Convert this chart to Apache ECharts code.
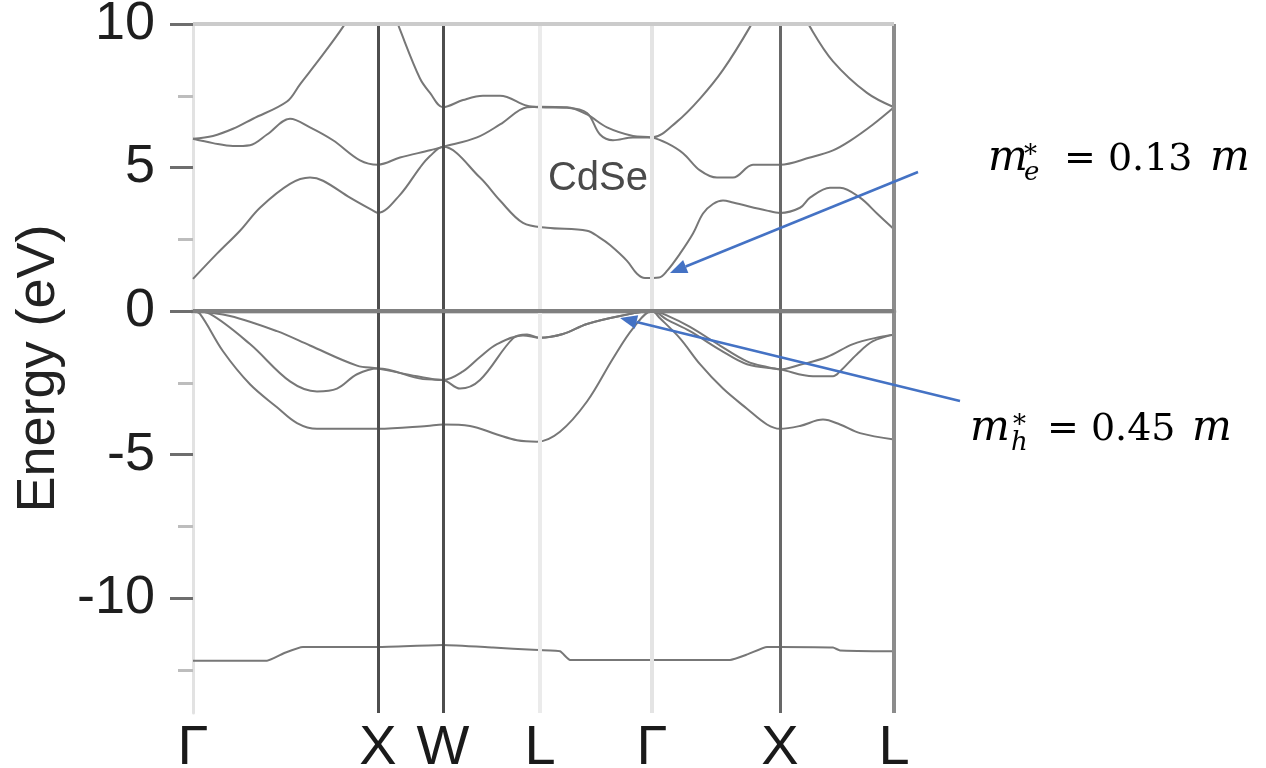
<!DOCTYPE html>
<html lang="en">
<head>
    <meta charset="UTF-8">
    <title>CdSe band structure</title>
    <script src="https://cdn.jsdelivr.net/npm/echarts@6/dist/echarts.min.js"></script>
    <style>
        html, body { margin: 0; padding: 0; background: #fff; }
        #main { width: 1266px; height: 768px; }
    </style>
</head>
<body>
<div id="main"></div>
<script>
    // k-path positions (arbitrary units along the path) and their labels
    var kTicks = [0, 185, 250, 347, 459, 587, 701];
    var kLabels = ['Γ', 'X', 'W', 'L', 'Γ', 'X', 'L'];
    var yMajor = [-10, -5, 0, 5, 10];
    var yMinor = [-12.5, -7.5, -2.5, 2.5, 7.5];

    // bands: [k, energy in eV]
    var bandS = [[0,-12.18],[74,-12.18],[92,-11.9],[110,-11.7],[185,-11.7],[250,-11.63],[300,-11.72],[340,-11.8],[367,-11.85],[377,-12.15],
        [459,-12.15],[537,-12.15],[555,-11.95],[574,-11.7],[587,-11.7],[640,-11.72],[647,-11.82],[701,-11.85]];
    var bandV3 = [[0,0],[7,-0.1],[30,-1.4],[57,-2.55],[84,-3.35],[104,-3.9],[124,-4.1],[164,-4.1],[185,-4.1],[234,-4.0],[250,-3.95],
        [277,-4.0],[304,-4.3],[324,-4.5],[344,-4.55],[367,-4.2],[394,-3.15],[420,-1.65],[440,-0.6],[459,0],
        [467,-0.25],[487,-0.95],[507,-1.85],[530,-2.7],[554,-3.4],[574,-3.95],[587,-4.1],[607,-4.0],[630,-3.78],[647,-3.95],[667,-4.25],[701,-4.47]];
    var bandV2 = [[0,0],[17,-0.1],[57,-1.15],[97,-2.45],[124,-2.8],[144,-2.7],[164,-2.2],[185,-2.0],[230,-2.37],[250,-2.4],[267,-2.7],
        [287,-2.4],[320,-0.95],[334,-0.82],[347,-0.93],[370,-0.8],[394,-0.45],[427,-0.17],[459,0],
        [474,-0.3],[497,-0.7],[527,-1.35],[554,-1.85],[587,-2.03],[620,-2.27],[640,-2.27],[647,-2.1],[664,-1.5],[680,-1.05],[701,-0.82]];
    var bandV1 = [[0,0],[37,-0.17],[84,-0.7],[117,-1.2],[164,-1.9],[185,-2.0],[224,-2.27],[250,-2.4],[270,-2.1],[287,-1.6],[304,-1.15],
        [330,-0.85],[347,-0.93],[370,-0.8],[394,-0.45],[427,-0.17],[459,0],
        [477,-0.2],[497,-0.55],[527,-1.2],[554,-1.75],[574,-1.95],[587,-2.03],[607,-1.87],[634,-1.6],[660,-1.15],[687,-0.9],[701,-0.82]];
    var bandC1 = [[0,1.12],[24,2.0],[47,2.8],[67,3.6],[97,4.43],[117,4.65],[130,4.54],[157,3.95],[180,3.5],[185,3.42],[207,4.05],[227,5.0],
        [237,5.4],[250,5.72],[287,4.65],[307,3.85],[330,3.07],[354,2.9],[394,2.8],[407,2.55],[417,2.3],[434,1.75],[444,1.3],[452,1.15],
        [466,1.17],[474,1.4],[487,2.0],[500,2.7],[510,3.4],[520,3.73],[530,3.85],[540,3.78],[574,3.5],[587,3.42],[607,3.6],[617,3.95],
        [637,4.3],[647,4.3],[667,3.95],[684,3.4],[701,2.85]];
    var bandC2 = [[0,6.0],[20,5.85],[40,5.75],[57,5.78],[74,6.15],[97,6.7],[117,6.4],[140,5.95],[167,5.25],[185,5.1],[207,5.35],[237,5.6],
        [250,5.72],[284,6.05],[307,6.5],[334,7.1],[347,7.12],[374,7.1],[394,6.85],[414,6.4],[440,6.1],[459,6.05],
        [474,5.85],[490,5.5],[507,4.9],[524,4.65],[540,4.65],[560,5.1],[587,5.1],[617,5.35],[640,5.6],[657,5.93],[680,6.5],[701,7.1]];
    var bandC3 = [[0,6.0],[20,6.1],[40,6.35],[60,6.7],[94,7.3],[107,7.9],[127,8.8],[150,9.9],[185,11.8],[207,9.8],[227,8.1],[237,7.6],
        [250,7.1],[270,7.35],[290,7.5],[307,7.5],[334,7.15],[347,7.1],[374,7.08],[394,6.9],[407,6.15],[420,5.95],[440,6.05],[459,6.05],
        [484,6.6],[507,7.4],[530,8.4],[557,9.9],[587,11.8],[617,9.9],[640,8.7],[674,7.6],[701,7.1]];

    var bands = [bandS, bandV3, bandV2, bandV1, bandC1, bandC2, bandC3];

    var myChart = echarts.init(document.getElementById('main'));

    var series = bands.map(function (b, i) {
        return {
            type: 'line',
            data: b,
            showSymbol: false,
            smooth: i === 0 ? 0.15 : 0.35,
            silent: true,
            z: 3,
            lineStyle: {color: '#777', width: 2}
        };
    });

    // frame and high-symmetry lines
    series.push({
        type: 'line',
        data: [],
        z: 1,
        markLine: {
            silent: true,
            symbol: 'none',
            animation: false,
            label: {show: false},
            lineStyle: {type: 'solid'},
            data: [
                {xAxis: kTicks[3], lineStyle: {color: '#ebebeb', width: 4, type: 'solid'}},
                {xAxis: kTicks[4], lineStyle: {color: '#e4e4e4', width: 4, type: 'solid'}},
                {xAxis: kTicks[1], lineStyle: {color: '#4e4e4e', width: 3, type: 'solid'}},
                {xAxis: kTicks[2], lineStyle: {color: '#4e4e4e', width: 3, type: 'solid'}},
                {xAxis: kTicks[5], lineStyle: {color: '#686868', width: 3, type: 'solid'}},
                {xAxis: kTicks[6], lineStyle: {color: '#8c8c8c', width: 4, type: 'solid'}},
                {yAxis: 10, lineStyle: {color: '#cbcbcb', width: 4, type: 'solid'}},
                {yAxis: 0, lineStyle: {color: '#808080', width: 4, type: 'solid'}}
            ]
        }
    });

    var option = {
        animation: false,
        grid: {left: 193, top: 24, width: 701, height: 689, outerBoundsMode: 'none', containLabel: false},
        xAxis: {
            type: 'value',
            min: 0,
            max: 701,
            axisLine: {lineStyle: {color: '#d4d4d4', width: 5}},
            axisTick: {show: false},
            splitLine: {show: false},
            axisLabel: {
                customValues: kTicks,
                margin: 8,
                fontSize: 56,
                fontFamily: 'Liberation Sans',
                color: '#1a1a1a',
                formatter: function (v) {
                    var i = kTicks.indexOf(v);
                    return i >= 0 ? kLabels[i] : '';
                }
            }
        },
        yAxis: [{
            type: 'value',
            min: -14,
            max: 10,
            name: 'Energy (eV)',
            nameLocation: 'middle',
            nameRotate: 90,
            nameGap: 121,
            nameTextStyle: {fontSize: 54, fontFamily: 'Liberation Sans', color: '#222'},
            axisLine: {show: true, lineStyle: {color: '#e2e2e2', width: 3}},
            axisTick: {customValues: yMajor, length: 23, lineStyle: {color: '#6e6e6e', width: 3}},
            splitLine: {show: false},
            axisLabel: {
                customValues: yMajor,
                margin: 38,
                fontSize: 54,
                fontFamily: 'Liberation Sans',
                color: '#1e1e1e'
            }
        }, {
            type: 'value',
            min: -14,
            max: 10,
            position: 'left',
            axisLine: {show: false},
            axisTick: {customValues: yMinor, length: 15, lineStyle: {color: '#bdbdbd', width: 3}},
            axisLabel: {show: false},
            splitLine: {show: false}
        }],
        series: series
    };

    myChart.setOption(option);

    // arrows from the mass labels to the band extrema
    function arrow(tail, tipData) {
        var tip = myChart.convertToPixel({gridIndex: 0}, tipData);
        var dx = tip[0] - tail[0], dy = tip[1] - tail[1];
        var len = Math.sqrt(dx * dx + dy * dy);
        var ux = dx / len, uy = dy / len;
        var hl = 17, hw = 7;
        var bx = tip[0] - ux * hl, by = tip[1] - uy * hl;
        return [{
            type: 'line',
            shape: {x1: tail[0], y1: tail[1], x2: bx, y2: by},
            style: {stroke: '#4472c4', lineWidth: 2.5},
            z: 10
        }, {
            type: 'polygon',
            shape: {points: [[tip[0], tip[1]], [bx - uy * hw, by + ux * hw], [bx + uy * hw, by - ux * hw]]},
            style: {fill: '#4472c4'},
            z: 10
        }];
    }

    function txt(x, y, s, font, align) {
        return {
            type: 'text', x: x, y: y, z: 10,
            style: {text: s, font: font, fill: '#000', textAlign: align || 'left', textVerticalAlign: 'middle'}
        };
    }

    var big = '38px "DejaVu Serif"', bigI = 'italic 42px "DejaVu Serif"';
    var graphics = [].concat(
        arrow([918, 172], [477, 1.33]),
        arrow([960, 401], [427, -0.24]),
        [
            {
                type: 'text', x: 598, y: 179, z: 10,
                style: {text: 'CdSe', font: '40px "Liberation Sans"', fill: '#4a4a4a', textAlign: 'center', textVerticalAlign: 'middle'}
            },
            txt(988, 159, 'm', bigI),
            txt(1024, 156, '*', '26px "DejaVu Serif"'),
            txt(1024, 173, 'e', 'italic 26px "DejaVu Serif"'),
            txt(1064, 160, '= 0.13', big),
            txt(1210, 159, 'm', bigI),
            txt(970, 429, 'm', bigI),
            txt(1013, 426, '*', '26px "DejaVu Serif"'),
            txt(1011, 443, 'h', 'italic 26px "DejaVu Serif"'),
            txt(1047, 430, '= 0.45', big),
            txt(1192, 429, 'm', bigI)
        ]
    );

    myChart.setOption({graphic: graphics});
</script>
</body>
</html>
